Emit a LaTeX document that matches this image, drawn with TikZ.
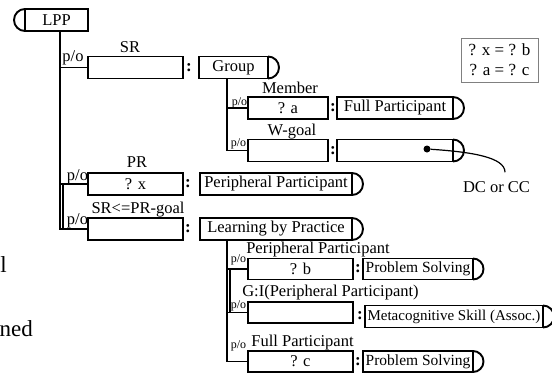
\documentclass[tikz,border=0pt]{standalone}
\usepackage{fontspec}
\setmainfont{Liberation Serif}
\usepackage{tikz}
\tikzstyle{slot} = [rectangle, draw=black, line width=1.9pt, inner sep=0pt, outer sep=0pt, minimum height=22pt, text centered, font=\fontsize{16.5}{18}\selectfont]
\tikzstyle{tag} = [inner sep=0pt, font=\fontsize{16.5}{18}\selectfont]
\tikzstyle{po} = [inner sep=0pt, font=\fontsize{12}{14}\selectfont]
\tikzstyle{isa} = [inner sep=0pt, font=\fontsize{17}{18}\selectfont\bfseries]
\tikzstyle{wire} = [line width=1.9pt]
\tikzstyle{eqbox} = [rectangle, draw=gray, line width=0.8pt, minimum width=77pt, minimum height=44pt, align=center, font=\fontsize{17}{20}\selectfont]
\tikzstyle{note} = [inner sep=0pt, font=\fontsize{23}{26}\selectfont]

\begin{document}
\begin{tikzpicture}[node distance=20pt]
\useasboundingbox (0,0) rectangle (552pt,-378pt);
\node (lpp) [slot, minimum width=63pt] at (56.5pt,-20pt) {LPP};
\node (sr) [slot, minimum width=95pt, below of=lpp, xshift=79pt, yshift=-27.5pt] {};
\node (srlab) [tag, above of=sr, xshift=-5.5pt] {SR};
\node (po1) [tag, left of=sr, xshift=-42.5pt, yshift=9.5pt] {p/o};
\node (c1) [isa, right of=sr, xshift=33.5pt] {:};
\node (grp) [slot, minimum width=69pt, right of=c1, xshift=24.5pt] {Group};
\node (mem) [slot, minimum width=80pt, below of=grp, xshift=54.5pt, yshift=-20.5pt] {? a};
\node (memlab) [tag, above of=mem, xshift=2pt] {Member};
\node (po2) [po, left of=mem, xshift=-28.5pt, yshift=5pt] {p/o};
\node (c2) [isa, right of=mem, xshift=25pt] {:};
\node (full) [slot, minimum width=116pt, right of=c2, xshift=42pt] {Full Participant};
\node (wg) [slot, minimum width=80pt, below of=mem, yshift=-22.5pt] {};
\node (wglab) [tag, above of=wg, xshift=4pt, yshift=-1.5pt] {W-goal};
\node (po3) [po, left of=wg, xshift=-29.5pt, yshift=6.5pt] {p/o};
\node (c3) [isa, right of=wg, xshift=25pt] {:};
\node (wgv) [slot, minimum width=116pt, right of=c3, xshift=42pt] {};
\node (dot) [circle, fill=black, inner sep=0pt, minimum size=7pt, right of=wgv, xshift=12pt, yshift=1.5pt] {};
\node (dccc) [tag, below of=dot, xshift=69.5pt, yshift=-18pt] {DC or CC};
\node (eq) [eqbox, right of=full, xshift=84.5pt, yshift=48pt] {? x = ? b\\? a = ? c};
\node (px) [slot, minimum width=95pt, below of=sr, yshift=-96.5pt] {? x};
\node (pxlab) [tag, above of=px, xshift=1.5pt, yshift=2pt] {PR};
\node (po4) [tag, left of=px, xshift=-38pt, yshift=7pt] {p/o};
\node (c4) [isa, right of=px, xshift=32.5pt] {:};
\node (pp) [slot, minimum width=152pt, right of=c4, xshift=68pt] {Peripheral Participant};
\node (srpr) [slot, minimum width=95pt, below of=px, yshift=-25pt] {};
\node (srprlab) [tag, above of=srpr, xshift=2.5pt, yshift=-1pt] {SR<=PR-goal};
\node (po5) [tag, left of=srpr, xshift=-38pt, yshift=8pt] {p/o};
\node (c5) [isa, right of=srpr, xshift=32.5pt] {:};
\node (lbp) [slot, minimum width=152pt, right of=c5, xshift=68pt] {Learning by Practice};
\node (qb) [slot, minimum width=105pt, minimum height=21pt, below of=lbp, xshift=24.5pt, yshift=-20pt] {? b};
\node (qblab) [tag, above of=qb, xshift=17.5pt, yshift=-1pt] {Peripheral Participant};
\node (po6) [po, left of=qb, xshift=-42pt, yshift=9pt] {p/o};
\node (c6) [isa, right of=qb, xshift=37.5pt] {:};
\node (ps1) [slot, minimum width=110pt, minimum height=21pt, font=\fontsize{15.5}{17}\selectfont, right of=c6, xshift=40pt] {Problem Solving};
\node (gi) [slot, minimum width=105pt, minimum height=21pt, below of=qb, yshift=-23.5pt] {};
\node (gilab) [tag, above of=gi, xshift=30pt, yshift=-0.5pt] {G:I(Peripheral Participant)};
\node (po7) [po, left of=gi, xshift=-42pt, yshift=6.5pt] {p/o};
\node (c7) [isa, right of=gi, xshift=39.5pt, yshift=-3.5pt] {:};
\node (meta) [slot, minimum width=178pt, font=\fontsize{15}{17}\selectfont, right of=c7, xshift=74pt, yshift=-0.5pt] {Metacognitive Skill (Assoc.)};
\node (qc) [slot, minimum width=105pt, minimum height=21pt, below of=gi, yshift=-29pt] {? c};
\node (qclab) [tag, above of=qc, xshift=2pt, yshift=-1.5pt] {Full Participant};
\node (po8) [po, left of=qc, xshift=-42pt, yshift=15.5pt] {p/o};
\node (c8) [isa, right of=qc, xshift=37.5pt] {:};
\node (ps2) [slot, minimum width=110pt, minimum height=21pt, font=\fontsize{15.5}{17}\selectfont, right of=c8, xshift=40pt] {Problem Solving};
\node (frag1) [note, anchor=base east] at (7pt,-272pt) {l};
\node (frag2) [note, anchor=base east] at (33pt,-336pt) {ned};
% caps
\draw[wire] (lpp.north west) arc[start angle=90, end angle=270, radius=11pt];
\draw[wire] (grp.north east) arc[start angle=90, end angle=-90, radius=11pt];
\draw[wire] (full.north east) arc[start angle=90, end angle=-90, radius=11pt];
\draw[wire] (wgv.north east) arc[start angle=90, end angle=-90, radius=11pt];
\draw[wire] (pp.north east) arc[start angle=90, end angle=-90, radius=11pt];
\draw[wire] (lbp.north east) arc[start angle=90, end angle=-90, radius=11pt];
\draw[wire] (ps1.north east) arc[start angle=90, end angle=-90, radius=10.5pt];
\draw[wire] (meta.north east) arc[start angle=90, end angle=-90, radius=11pt];
\draw[wire] (ps2.north east) arc[start angle=90, end angle=-90, radius=10.5pt];
% part-of wires
\coordinate (t0) at ([xshift=3.5pt]lpp.south);
\coordinate (t0b) at ([xshift=3pt]t0);
\draw[wire] (t0) |- (srpr.west);
\draw[wire] (sr.west) -- (sr.west -| t0);
\draw[wire] (px.west) -- (px.west -| t0);
\draw[wire] (px.west) -| (t0b |- srpr.west);
\coordinate (t1) at ([xshift=-6.5pt]grp.south);
\draw[wire] (t1) |- (wg.west);
\draw[wire] (mem.west) -- (mem.west -| t1);
\coordinate (t2) at ([xshift=-49pt]lbp.south);
\coordinate (t2b) at ([xshift=3pt]t2);
\draw[wire] (t2) |- (qc.west);
\draw[wire] (qb.west) -- (qb.west -| t2);
\draw[wire] (gi.west) -- (gi.west -| t2);
\draw[wire] (qb.west) -| (t2b |- gi.west);
% dc or cc
\coordinate (dcend) at ([xshift=8.5pt, yshift=9pt]dccc.north);
\draw[line width=1.2pt] (dot) .. controls +(45pt,-3pt) and +(0pt,15pt) .. (dcend);
\end{tikzpicture}
\end{document}
